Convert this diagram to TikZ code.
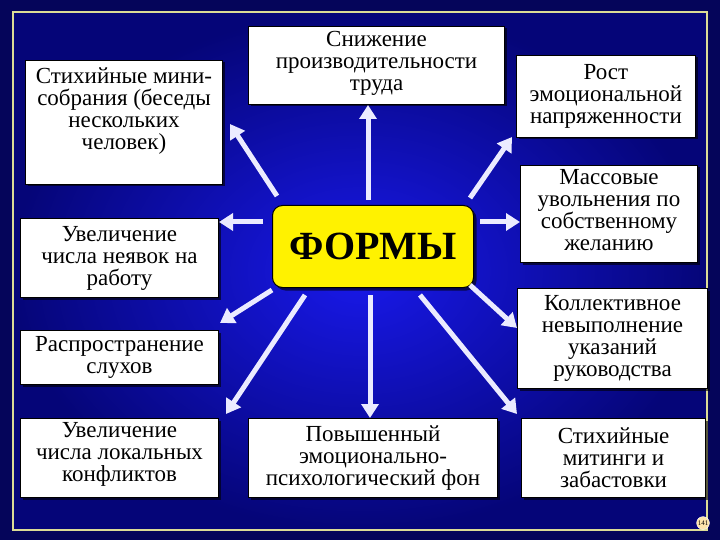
\documentclass[tikz,border=0pt]{standalone}
\usepackage{fontspec}
\setmainfont{Liberation Serif}
\usetikzlibrary{arrows.meta,shadows}
\definecolor{navy}{RGB}{5,5,90}
\definecolor{bluein}{RGB}{25,25,235}
\definecolor{blueout}{RGB}{5,5,120}
\definecolor{frameyel}{RGB}{220,220,150}
\begin{document}
\begin{tikzpicture}[x=1pt,y=-1pt,
  txt/.style={font=\fontsize{23}{22}\selectfont,align=center},
  box/.style={draw=black,line width=1pt,fill=white,txt,inner sep=0pt,drop shadow={shadow xshift=2pt,shadow yshift=-2pt,fill=black,opacity=0.6}},
  arr/.style={draw=white!92!blue,line width=5pt,-{Triangle[length=14pt,width=17pt]}}]
\fill[navy] (0,0) rectangle (720,540);
\shade[inner color=bluein,outer color=blueout] (13,12) rectangle (707,530);
\draw[frameyel,line width=1.2pt] (13,12) rectangle (707,530);
\useasboundingbox (0,0) rectangle (720,540);
\node[box,minimum width=197,minimum height=124,anchor=north west] (b1) at (25,60) {};
\node[txt,anchor=north] (b1t) at ([yshift=-4pt]b1.north) {Стихийные мини-\\собрания (беседы\\нескольких\\человек)};
\node[box,minimum width=256,minimum height=78,anchor=north west] (b2) at (248,26) {};
\node[txt,anchor=north] (b2t) at ([yshift=-2pt]b2.north) {Снижение\\производительности\\труда};
\node[box,minimum width=179,minimum height=82,anchor=north west] (b3) at (516,55) {Рост\\эмоциональной\\напряженности};
\node[box,minimum width=177,minimum height=97,anchor=north west] (b4) at (520,165) {};
\node[txt,anchor=north] (b4t) at ([yshift=-1pt]b4.north) {Массовые\\увольнения по\\собственному\\желанию};
\node[box,minimum width=198,minimum height=79,anchor=north west] (b10) at (20,218) {Увеличение\\числа неявок на\\работу};
\node[box,minimum width=198,minimum height=54,anchor=north west] (b9) at (20,330) {Распространение\\слухов};
\node[box,minimum width=190,minimum height=100,anchor=north west] (b5) at (517,288) {Коллективное\\невыполнение\\указаний\\руководства};
\node[box,minimum width=198,minimum height=79,anchor=north west] (b8) at (20,418) {};
\node[txt,anchor=north] (b8t) at ([yshift=-1pt]b8.north) {Увеличение\\числа локальных\\конфликтов};
\node[box,minimum width=249,minimum height=79,anchor=north west] (b7) at (248,418) {Повышенный\\эмоционально-\\психологический фон};
\node[box,minimum width=184,minimum height=79,anchor=north west] (b6) at (521,418) {Стихийные\\митинги и\\забастовки};
\node[draw=black,line width=1pt,fill=yellow,rounded corners=10pt,minimum width=201,minimum height=82,anchor=north west,
  font=\fontsize{40}{40}\selectfont\bfseries,drop shadow={shadow xshift=3pt,shadow yshift=-3pt,fill=black,opacity=0.6}] (c) at (272,205) {ФОРМЫ};
\coordinate (s1) at (277,196); \coordinate (e1) at (230,124);
\coordinate (s2) at (368,200); \coordinate (s3) at (470,198); \coordinate (e3) at (512,137);
\coordinate (s4) at (263,222); \coordinate (s5) at (480,222);
\coordinate (s6) at (272,290); \coordinate (e6) at (220,323);
\coordinate (s7) at (305,295); \coordinate (e7) at (226,414);
\coordinate (s8) at (370,295); \coordinate (s9) at (420,295); \coordinate (e9) at (517,414);
\coordinate (s10) at (470,285); \coordinate (e10) at (517,328);
\draw[arr] (s1) -- (e1);
\draw[arr] (s2) -- (s2 |- b2.south);
\draw[arr] (s3) -- (e3);
\draw[arr] (s4) -- (s4 -| b10.east);
\draw[arr] (s5) -- (s5 -| b4.west);
\draw[arr] (s6) -- (e6);
\draw[arr] (s7) -- (e7);
\draw[arr] (s8) -- (s8 |- b7.north);
\draw[arr] (s9) -- (e9);
\draw[arr] (s10) -- (e10);
\node[circle,fill=yellow!40!orange!30,draw=white,inner sep=0.5pt,font=\fontsize{7}{7}\selectfont] (pg) at (703,523) {141};
\end{tikzpicture}
\end{document}
